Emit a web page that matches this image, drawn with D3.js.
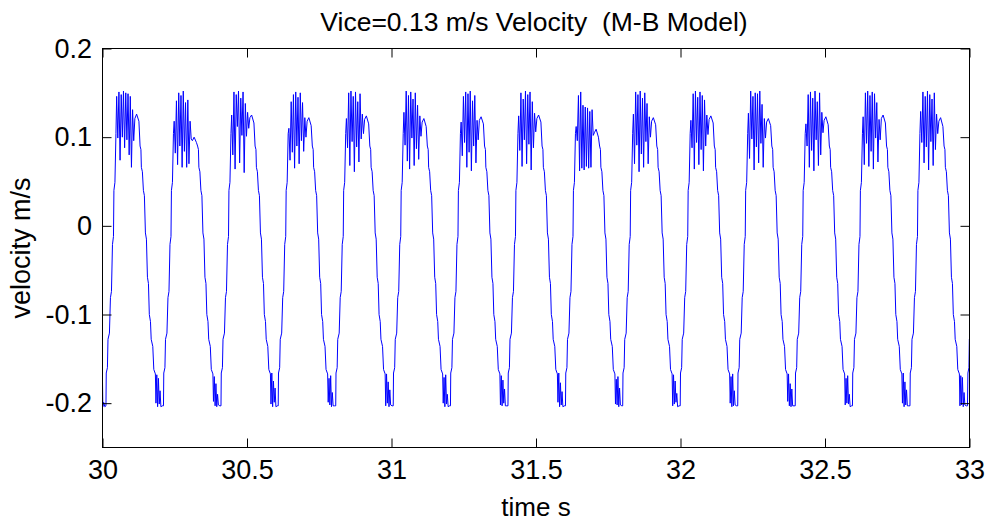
<!DOCTYPE html>
<html>
<head>
<meta charset="utf-8">
<script src="https://cdn.jsdelivr.net/npm/d3@7"></script>
<style>
  html, body { margin: 0; padding: 0; background: #fff; }
  svg { display: block; font-family: "Liberation Sans", Arial, sans-serif; }
</style>
</head>
<body>
<svg id="chart" width="989" height="523"></svg>
<script>
// ---- axis setup ----
const xTicks = [30, 30.5, 31, 31.5, 32, 32.5, 33];
const yTicks = [-0.2, -0.1, 0, 0.1, 0.2];
const xDomain = [30, 33];
const yDomain = [-0.25, 0.2];

// ---- velocity record (s, m/s) ----
// start of the window: still at the lower stop
const leadIn = [[30.000, -0.176], [30.0012, -0.204], [30.004, -0.199], [30.008, -0.204]];

// time at which each upswing leaves the lower stop
const cycleStart = [30.012, 30.211, 30.410, 30.608, 30.807, 31.006, 31.204, 31.403,
                    31.602, 31.800, 31.999, 32.198, 32.397, 32.595, 32.794];

// upswing: [seconds after cycle start, velocity]
const riseShape = [
  [0.000, -0.203], [0.001, -0.166], [0.005, -0.160], [0.007, -0.128],
  [0.012, -0.121], [0.0155, -0.081], [0.019, -0.074], [0.0225, -0.021],
  [0.026, -0.012], [0.0275, 0.040], [0.031, 0.049], [0.0345, 0.104]
];

// stick-slip chatter near the upper turn, one row per cycle
const chatterWindow = [0.037, 0.096];
const topChatter = [
  [0.146, 0.099, 0.151, 0.074, 0.148, 0.100, 0.152, 0.088, 0.150, 0.097, 0.149, 0.080, 0.146, 0.066, 0.131, 0.096],
  [0.118, 0.082, 0.141, 0.069, 0.150, 0.090, 0.147, 0.066, 0.152, 0.084, 0.139, 0.066, 0.142, 0.070, 0.118, 0.098],
  [0.125, 0.080, 0.151, 0.064, 0.148, 0.112, 0.152, 0.071, 0.144, 0.102, 0.151, 0.060, 0.138, 0.101, 0.128, 0.110],
  [0.110, 0.074, 0.140, 0.083, 0.148, 0.065, 0.151, 0.090, 0.145, 0.070, 0.150, 0.096, 0.139, 0.084, 0.122, 0.100],
  [0.121, 0.088, 0.150, 0.068, 0.152, 0.095, 0.146, 0.061, 0.151, 0.089, 0.140, 0.072, 0.149, 0.098, 0.126, 0.104],
  [0.128, 0.091, 0.152, 0.073, 0.147, 0.064, 0.151, 0.099, 0.143, 0.068, 0.150, 0.087, 0.136, 0.075, 0.124, 0.101],
  [0.117, 0.079, 0.146, 0.094, 0.151, 0.066, 0.149, 0.083, 0.152, 0.062, 0.141, 0.090, 0.147, 0.071, 0.119, 0.097],
  [0.124, 0.085, 0.150, 0.067, 0.143, 0.097, 0.152, 0.070, 0.148, 0.092, 0.151, 0.063, 0.140, 0.088, 0.127, 0.106],
  [0.112, 0.096, 0.147, 0.062, 0.151, 0.065, 0.136, 0.063, 0.134, 0.067, 0.133, 0.065, 0.129, 0.066, 0.131, 0.102],
  [0.126, 0.070, 0.151, 0.091, 0.148, 0.061, 0.152, 0.081, 0.144, 0.066, 0.150, 0.095, 0.138, 0.070, 0.123, 0.100],
  [0.119, 0.088, 0.149, 0.064, 0.152, 0.094, 0.145, 0.069, 0.151, 0.086, 0.147, 0.062, 0.142, 0.090, 0.125, 0.103],
  [0.127, 0.076, 0.152, 0.098, 0.146, 0.063, 0.150, 0.089, 0.149, 0.071, 0.152, 0.093, 0.137, 0.066, 0.121, 0.099],
  [0.115, 0.090, 0.148, 0.066, 0.151, 0.085, 0.144, 0.062, 0.152, 0.097, 0.140, 0.068, 0.150, 0.080, 0.128, 0.105],
  [0.123, 0.069, 0.150, 0.093, 0.152, 0.067, 0.147, 0.084, 0.151, 0.064, 0.149, 0.099, 0.139, 0.072, 0.120, 0.097],
  [0.129, 0.094, 0.151, 0.071, 0.146, 0.089, 0.152, 0.063, 0.148, 0.095, 0.143, 0.068, 0.150, 0.086, 0.126, 0.104]
];

// short plateau after the chatter, one row per cycle
const plateauTimes = [0.100, 0.106, 0.114];
const plateau = [
  [0.121, 0.126, 0.118], [0.096, 0.100, 0.094], [0.122, 0.125, 0.116], [0.118, 0.122, 0.113],
  [0.120, 0.124, 0.115], [0.117, 0.121, 0.112], [0.119, 0.123, 0.115], [0.121, 0.125, 0.117],
  [0.105, 0.109, 0.100], [0.118, 0.122, 0.114], [0.120, 0.124, 0.116], [0.117, 0.121, 0.113],
  [0.119, 0.123, 0.114], [0.121, 0.125, 0.116], [0.118, 0.122, 0.112]
];

// downswing: [seconds after cycle start, velocity]
const fallShape = [
  [0.118, 0.090], [0.121, 0.086], [0.1225, 0.066], [0.126, 0.061],
  [0.1295, 0.040], [0.133, 0.034], [0.1365, -0.008], [0.140, -0.015],
  [0.1435, -0.058], [0.147, -0.065], [0.150, -0.100], [0.154, -0.108],
  [0.1565, -0.128], [0.162, -0.136], [0.1655, -0.162], [0.171, -0.167]
];

// chatter at the lower stop, one row per cycle
const bottomWindow = [0.173, 0.190];
const bottomChatter = [
  [-0.200, -0.168, -0.204, -0.172, -0.201, -0.186, -0.204],
  [-0.198, -0.170, -0.203, -0.178, -0.204, -0.190, -0.202],
  [-0.201, -0.166, -0.204, -0.175, -0.199, -0.183, -0.204],
  [-0.199, -0.172, -0.202, -0.169, -0.204, -0.188, -0.203],
  [-0.203, -0.167, -0.200, -0.176, -0.204, -0.185, -0.202],
  [-0.200, -0.171, -0.204, -0.168, -0.201, -0.190, -0.204],
  [-0.202, -0.169, -0.203, -0.174, -0.200, -0.184, -0.203],
  [-0.199, -0.166, -0.204, -0.177, -0.202, -0.187, -0.204],
  [-0.201, -0.173, -0.202, -0.170, -0.204, -0.183, -0.202],
  [-0.203, -0.168, -0.201, -0.175, -0.199, -0.189, -0.204],
  [-0.200, -0.170, -0.204, -0.167, -0.203, -0.186, -0.202],
  [-0.198, -0.167, -0.203, -0.178, -0.204, -0.184, -0.203],
  [-0.202, -0.172, -0.200, -0.169, -0.201, -0.190, -0.204],
  [-0.200, -0.166, -0.204, -0.176, -0.202, -0.185, -0.203],
  [-0.203, -0.169, -0.202, -0.171, -0.204, -0.188, -0.202]
];
const bottomRest = [[0.195, -0.203]];

// end of the window: next upswing already under way
const leadOut = [[32.993, -0.203], [32.9945, -0.166], [32.998, -0.160], [32.9995, -0.128], [33.004, -0.121]];

// ---- assemble the trace ----
const series = leadIn.slice();
cycleStart.forEach((t0, i) => {
  riseShape.forEach(([dt, v]) => series.push([t0 + dt, v]));
  const top = topChatter[i];
  const step = (chatterWindow[1] - chatterWindow[0]) / (top.length - 1);
  top.forEach((v, j) => series.push([t0 + chatterWindow[0] + j * step, v]));
  plateau[i].forEach((v, j) => series.push([t0 + plateauTimes[j], v]));
  fallShape.forEach(([dt, v]) => series.push([t0 + dt, v]));
  const bot = bottomChatter[i];
  const bstep = (bottomWindow[1] - bottomWindow[0]) / (bot.length - 1);
  bot.forEach((v, j) => series.push([t0 + bottomWindow[0] + j * bstep, v]));
  bottomRest.forEach(([dt, v]) => series.push([t0 + dt, v]));
});
leadOut.forEach(p => series.push(p));

// ---- layout ----
const W = 989, H = 523;
const plot = { left: 102.5, right: 969.5, top: 48.5, bottom: 447.5 };
const svg = d3.select('#chart');
svg.append('rect').attr('width', W).attr('height', H).attr('fill', '#fff');

const x = d3.scaleLinear().domain(xDomain).range([plot.left, plot.right]);
const y = d3.scaleLinear().domain(yDomain).range([plot.bottom, plot.top]);

const fontSize = 27;
const tickLen = 9;

svg.append('clipPath').attr('id', 'plotClip')
  .append('rect')
  .attr('x', plot.left).attr('y', plot.top)
  .attr('width', plot.right - plot.left).attr('height', plot.bottom - plot.top);

// trace
svg.append('path')
  .datum(series)
  .attr('clip-path', 'url(#plotClip)')
  .attr('fill', 'none')
  .attr('stroke', '#0000ff')
  .attr('stroke-width', 1)
  .attr('stroke-linejoin', 'miter')
  .attr('d', d3.line().x(d => x(d[0])).y(d => y(d[1])));

// axes with inward ticks on all four sides
const fmtX = d => String(d);
const fmtY = d => (Math.abs(d) < 1e-9 ? '0' : String(d));

function styleAxis(g) {
  g.select('.domain').remove();
  g.selectAll('.tick line').attr('stroke', '#000').attr('stroke-width', 1);
  g.selectAll('.tick text').attr('fill', '#000').attr('font-size', fontSize)
    .attr('font-family', '"Liberation Sans", Arial, sans-serif');
}

svg.append('g')
  .attr('transform', `translate(0,${plot.bottom})`)
  .call(d3.axisBottom(x).tickValues(xTicks).tickFormat(fmtX).tickSize(-tickLen).tickPadding(12))
  .call(styleAxis);

svg.append('g')
  .attr('transform', `translate(0,${plot.top})`)
  .call(d3.axisTop(x).tickValues(xTicks).tickFormat('').tickSize(-tickLen))
  .call(styleAxis);

svg.append('g')
  .attr('transform', `translate(${plot.left},0)`)
  .call(d3.axisLeft(y).tickValues(yTicks).tickFormat(fmtY).tickSize(-tickLen).tickPadding(10.5))
  .call(styleAxis);

svg.append('g')
  .attr('transform', `translate(${plot.right},0)`)
  .call(d3.axisRight(y).tickValues(yTicks).tickFormat('').tickSize(-tickLen))
  .call(styleAxis);

// frame
svg.append('rect')
  .attr('x', plot.left).attr('y', plot.top)
  .attr('width', plot.right - plot.left).attr('height', plot.bottom - plot.top)
  .attr('fill', 'none').attr('stroke', '#000').attr('stroke-width', 1);

// titles
const cx = (plot.left + plot.right) / 2;
svg.append('text')
  .attr('x', cx - 2).attr('y', 31)
  .attr('text-anchor', 'middle')
  .attr('font-size', 26.5)
  .style('white-space', 'pre')
  .text('Vice=0.13 m/s Velocity  (M-B Model)');

svg.append('text')
  .attr('x', cx).attr('y', 516)
  .attr('text-anchor', 'middle')
  .attr('font-size', 26)
  .text('time s');

svg.append('text')
  .attr('transform', `translate(30,${(plot.top + plot.bottom) / 2}) rotate(-90)`)
  .attr('text-anchor', 'middle')
  .attr('font-size', fontSize)
  .text('velocity m/s');
</script>
</body>
</html>
